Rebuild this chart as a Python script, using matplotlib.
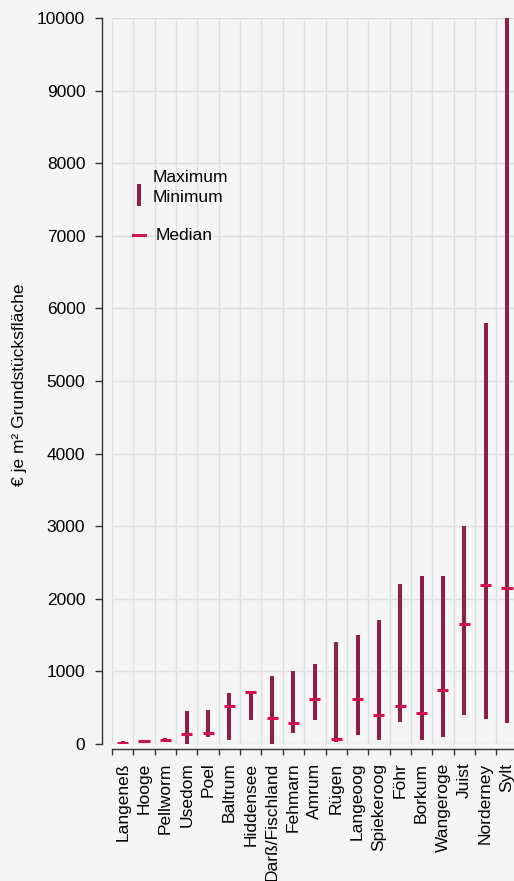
import matplotlib
matplotlib.use("Agg")
import matplotlib.pyplot as plt
import numpy as np
from matplotlib.lines import Line2D

### Data
islands = ['Langeneß', 'Hooge', 'Pellworm', 'Usedom', 'Poel', 'Baltrum', 'Hiddensee',
           'Darß/Fischland', 'Fehmarn', 'Amrum', 'Rügen', 'Langeoog', 'Spiekeroog',
           'Föhr', 'Borkum', 'Wangeroge', 'Juist', 'Norderney', 'Sylt']
price_max = [35, 50, 80, 460, 470, 705, 735, 940, 1010, 1105, 1410, 1505, 1710, 2210, 2310, 2310, 3000, 5800, 10000]
price_min = [10, 20, 30, 0, 90, 55, 325, 0, 145, 330, 25, 120, 50, 300, 50, 95, 395, 350, 285]
price_median = [20, 35, 50, 140, 155, 525, 715, 360, 295, 620, 70, 620, 395, 525, 430, 750, 1650, 2190, 2150]
yticks = [0, 1000, 2000, 3000, 4000, 5000, 6000, 7000, 8000, 9000, 10000]

### Style
bg = '#f5f5f5'
grid_col = '#dedede'
bar_col = '#8c1f4c'
med_col = '#d2124e'
fs = 12.5
plt.rcParams['font.family'] = ['Liberation Sans', 'DejaVu Sans']
plt.rcParams['font.size'] = fs

W, H, dpi = 514, 881, 100
fig = plt.figure(figsize=(W / dpi, H / dpi), dpi=dpi, facecolor=bg)
# axes placed in pixel terms: x data -0.5 at px 112, 19 slots of ~21.35 px; y 0..10000 between px 744 and 18
left_px, slot = 112, 21.35
ax = fig.add_axes([left_px / W, (H - 744) / H, len(islands) * slot / W, (744 - 18) / H])
ax.set_facecolor(bg)

x = np.arange(len(islands))
ax.vlines(x, price_min, price_max, color=bar_col, lw=2.9, zorder=3)
ax.hlines(price_median, x - 0.26, x + 0.26, color=med_col, lw=2.2, zorder=4)

ax.set_xlim(-0.5, len(islands) - 0.5)
ax.set_ylim(0, 10000)

# grid
for yv in yticks:
    ax.axhline(yv, color=grid_col, lw=1, zorder=1)
for b in np.arange(-0.5, len(islands) - 0.5, 1.0):
    ax.axvline(b, color=grid_col, lw=1, zorder=1)

# spines R-style
for s in ['top', 'right']:
    ax.spines[s].set_visible(False)
ax.spines['left'].set_position(('outward', 7.2))
ax.spines['left'].set_bounds(0, 10000)
ax.spines['bottom'].set_position(('outward', 3.4))
ax.spines['bottom'].set_bounds(-0.5, len(islands) - 0.5)
for s in ['left', 'bottom']:
    ax.spines[s].set_color('#333333')
    ax.spines[s].set_linewidth(1)

ax.set_yticks(yticks)
ax.set_yticklabels([str(v) for v in yticks])
ax.tick_params(axis='y', length=5, width=1, color='#333333', pad=7, labelsize=fs)

ax.set_xticks(x)
ax.set_xticklabels(islands, rotation=90, va='top', ha='center')
ax.tick_params(axis='x', which='major', length=0, pad=10, labelsize=fs)
ax.set_xticks(np.arange(-0.5, len(islands) - 0.5, 1.0), minor=True)
ax.tick_params(axis='x', which='minor', length=4.3, width=1, color='#333333')

fig.text(20 / W, 1 - 385 / H, '€ je m² Grundstücksfläche', rotation=90,
         ha='center', va='center', fontsize=fs)

# legend drawn by hand
def fx(px): return px / W
def fy(py): return 1 - py / H
fig.add_artist(Line2D([fx(139), fx(139)], [fy(186), fy(204)], color=bar_col, lw=2.9,
                      transform=fig.transFigure))
fig.text(fx(153), fy(178), 'Maximum', ha='left', va='center', fontsize=fs)
fig.text(fx(153), fy(197), 'Minimum', ha='left', va='center', fontsize=fs)
fig.add_artist(Line2D([fx(133), fx(145)], [fy(235), fy(235)], color=med_col, lw=2.2,
                      transform=fig.transFigure))
fig.text(fx(156), fy(236), 'Median', ha='left', va='center', fontsize=fs)

fig.savefig('out.png', dpi=dpi, facecolor=bg)
